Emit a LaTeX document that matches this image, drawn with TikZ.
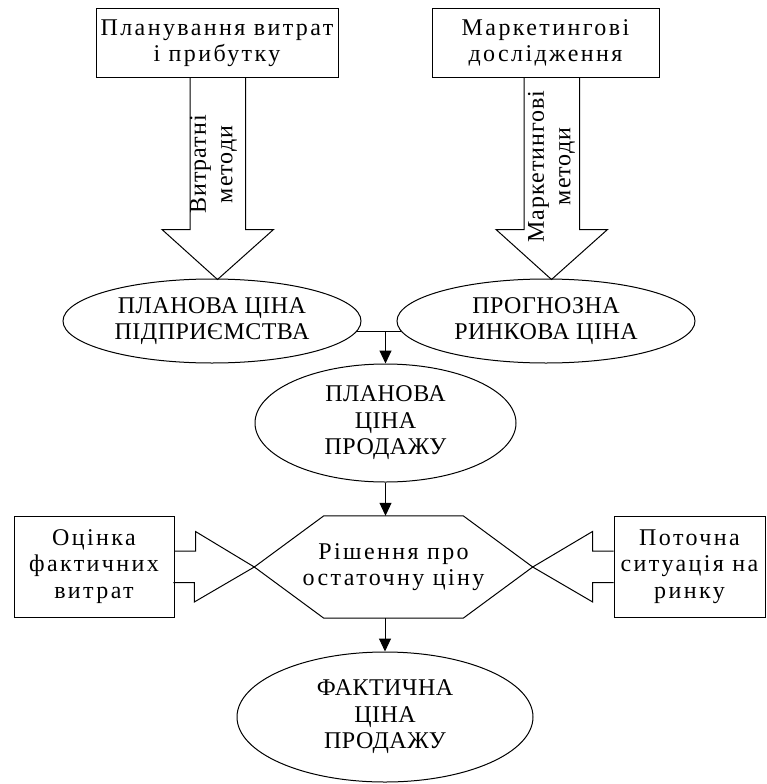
\documentclass[tikz,border=0pt]{standalone}
\usepackage{fontspec}
\setmainfont{Liberation Serif}
\newfontfamily\widefont[LetterSpace=10]{Liberation Serif}
\newfontfamily\capsfont[LetterSpace=2]{Liberation Serif}
\newfontfamily\sidefont[LetterSpace=4]{Liberation Serif}
\usetikzlibrary{shapes.geometric, arrows.meta, calc}
\tikzstyle{block} = [rectangle, draw=black, fill=white, align=center, inner sep=0pt, line width=1pt, font=\widefont\fontsize{24}{26.5}\selectfont]
\tikzstyle{oval} = [ellipse, draw=black, fill=white, align=center, inner sep=0pt, line width=1pt, font=\capsfont\fontsize{24}{26.5}\selectfont]
\tikzstyle{vtext} = [rotate=90, align=center, inner sep=0pt, font=\sidefont\fontsize{24}{26.5}\selectfont]
\tikzstyle{fat} = [line width=1pt, line join=miter]
\tikzstyle{arrow} = [line width=1pt, -{Triangle[length=13pt,width=12pt]}]

\begin{document}
\begin{tikzpicture}[x=1pt, y=-1pt]
        \useasboundingbox (0,0) rectangle (766,784);
        \node (plan) [block, minimum width=242pt, minimum height=68pt] at (217,43) {Планування витрат\\і прибутку};
        \node (mark) [block, minimum width=227pt, minimum height=68pt] at (545.5,43) {Маркетингові\\дослідження};
        \node (e1) [oval, minimum width=298pt, minimum height=84pt] at (212,321) {ПЛАНОВА ЦІНА\\ПІДПРИЄМСТВА};
        \node (e2) [oval, minimum width=298pt, minimum height=84pt] at (546,321) {ПРОГНОЗНА\\РИНКОВА ЦІНА};
        \node (e3) [oval, minimum width=261pt, minimum height=118pt] at (385.5,423) {ПЛАНОВА\\ЦІНА\\ПРОДАЖУ};
        \node (hex) [inner sep=0pt, minimum width=139pt, minimum height=102pt] at (393.5,567) {};
        \node (dec) [block, draw=none, fill=none] at (hex) {Рішення про\\остаточну ціну};
        \node (cost) [block, minimum width=160pt, minimum height=101pt] at (94,566.5) {Оцінка\\фактичних\\витрат};
        \node (sit) [block, minimum width=151pt, minimum height=101pt] at (689.5,566.5) {Поточна\\ситуація на\\ринку};
        \node (e4) [oval, minimum width=296pt, minimum height=130pt] at (385,717) {ФАКТИЧНА\\ЦІНА\\ПРОДАЖУ};
        \coordinate (top1) at ($(plan.south)+(0.5,0)$);
        \coordinate (top2) at ($(mark.south)+(6,0)$);
        \coordinate (hexl) at ($(hex.west)+(-69.5,0)$);
        \coordinate (hexr) at ($(hex.east)+(69.5,0)$);
        \coordinate (join) at (e3.north |- e1.-4);

        \draw [fat] ($(top1)+(-27.5,0)$) -- ++(0,152) -- ++(-28,0) -- ($(top1)+(0,202)$) -- ++(56,-50) -- ++(-28,0) -- ++(0,-152);
        \draw [fat] ($(top2)+(-27.5,0)$) -- ++(0,152) -- ++(-28,0) -- ($(top2)+(0,202)$) -- ++(56,-50) -- ++(-28,0) -- ++(0,-152);
        \node (m1) [vtext] at ($(top1)+(-4,87)$) {Витратні\\методи};
        \node (m2) [vtext] at ($(top2)+(0,89)$) {Маркетингові\\методи};
        \draw [fat] (hex.north west) -- (hex.north east) -- (hexr) -- (hex.south east) -- (hex.south west) -- (hexl) -- cycle;
        \draw [fat] ($(cost.east)+(0,-15.5)$) -- ++(21,0) -- ++(0,-19.5) -- (hexl) -- ++(-60,35) -- ++(0,-19.5) -- ++(-21,0);
        \draw [fat] ($(sit.west)+(0,-15.5)$) -- ++(-21,0) -- ++(0,-19.5) -- (hexr) -- ++(60,35) -- ++(0,-19.5) -- ++(21,0);
        \draw [fat] (e1.-4) -- (e2.184);
        \draw [arrow] (join) -- (e3.north);
        \draw [arrow] (e3.south) -- (e3.south |- hex.north);
        \draw [arrow] (e4.north |- hex.south) -- (e4.north);
    \end{tikzpicture}
\end{document}
